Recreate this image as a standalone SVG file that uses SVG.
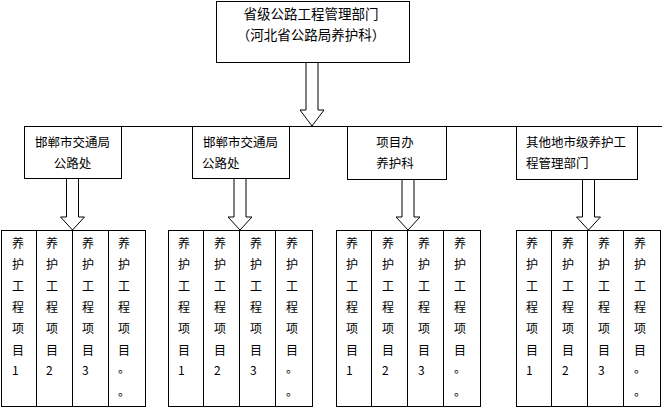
<svg xmlns="http://www.w3.org/2000/svg" width="663" height="409" viewBox="0 0 663 409">
<style>
.box{fill:#fff;stroke:#000;stroke-width:1}
.ln{stroke:#000;stroke-width:1;fill:none}
.arr{fill:#fff;stroke:#000;stroke-width:1}
text{font-family:"Noto Sans CJK SC","Noto Sans",sans-serif;fill:#000}
.t1{font-size:13.5px;text-anchor:middle}
.t2{font-size:12.5px}
.t3{font-size:12px}
.m{text-anchor:middle}
</style>
<rect width="663" height="409" fill="#fff"/>
<g id="connectors">
<line class="ln" x1="24" y1="126.5" x2="662" y2="126.5"/>
<polygon class="arr" points="306,62.5 306,110 300,110 312,126 324,110 318,110 318,62.5"/>
<polygon class="arr" points="66.5,178.5 66.5,217 60.5,217 72.5,230 84.5,217 78.5,217 78.5,178.5"/>
<polygon class="arr" points="234,178.5 234,217 228,217 240,230 252,217 246,217 246,178.5"/>
<polygon class="arr" points="402,179.5 402,217 396,217 408,230 420,217 414,217 414,179.5"/>
<polygon class="arr" points="582.5,179.5 582.5,217 576.5,217 588.5,230 600.5,217 594.5,217 594.5,179.5"/>
</g>
<g id="top">
<rect class="box" x="216.5" y="1.5" width="193" height="61"/>
<text class="t1" x="311" y="19">省级公路工程管理部门</text>
<text class="t1" x="311" y="40">（河北省公路局养护科）</text>
</g>
<g id="b1">
<rect class="box" x="24.5" y="126.5" width="97" height="52"/>
<text class="t2 m" x="72.5" y="147">邯郸市交通局</text>
<text class="t2 m" x="72.5" y="168">公路处</text>
</g>
<g id="b2">
<rect class="box" x="192.5" y="126.5" width="97" height="52"/>
<text class="t2" x="203" y="147">邯郸市交通局</text>
<text class="t2" x="202" y="168">公路处</text>
</g>
<g id="b3">
<rect class="box" x="347.5" y="126.5" width="99" height="53"/>
<text class="t2 m" x="395" y="147">项目办</text>
<text class="t2 m" x="395" y="168">养护科</text>
</g>
<g id="b4">
<rect class="box" x="516.5" y="126.5" width="121" height="53"/>
<text class="t2" x="526" y="147">其他地市级养护工</text>
<text class="t2" x="526" y="168">程管理部门</text>
</g>
<defs>
<g id="cols">
<rect class="box" x="0" y="0" width="144" height="176"/>
<line class="ln" x1="35" y1="0" x2="35" y2="176"/>
<line class="ln" x1="71" y1="0" x2="71" y2="176"/>
<line class="ln" x1="107" y1="0" x2="107" y2="176"/>
</g>
<g id="txt">
<text class="t3" y="17.5">养</text>
<text class="t3" y="38.5">护</text>
<text class="t3" y="60">工</text>
<text class="t3" y="81.5">程</text>
<text class="t3" y="102.5">项</text>
<text class="t3" y="124">目</text>
</g>
</defs>
<g id="g1" transform="translate(1.5,230.5)">
<use href="#cols"/>
<g transform="translate(10.5,0)"><use href="#txt"/><text class="t3" y="144">1</text></g>
<g transform="translate(44.5,0)"><use href="#txt"/><text class="t3" y="144">2</text></g>
<g transform="translate(80.5,0)"><use href="#txt"/><text class="t3" y="144">3</text></g>
<g transform="translate(116.5,0)"><use href="#txt"/><text class="t3" y="142">。</text><text class="t3" y="165">。</text></g>
</g>
<g id="g2" transform="translate(168.5,230.5)">
<use href="#cols"/>
<g transform="translate(9.5,0)"><use href="#txt"/><text class="t3" y="144">1</text></g>
<g transform="translate(45.5,0)"><use href="#txt"/><text class="t3" y="144">2</text></g>
<g transform="translate(81.5,0)"><use href="#txt"/><text class="t3" y="144">3</text></g>
<g transform="translate(117.5,0)"><use href="#txt"/><text class="t3" y="142">。</text><text class="t3" y="165">。</text></g>
</g>
<g id="g3" transform="translate(336.5,230.5)">
<use href="#cols"/>
<g transform="translate(9.5,0)"><use href="#txt"/><text class="t3" y="144">1</text></g>
<g transform="translate(45.5,0)"><use href="#txt"/><text class="t3" y="144">2</text></g>
<g transform="translate(81.5,0)"><use href="#txt"/><text class="t3" y="144">3</text></g>
<g transform="translate(117.5,0)"><use href="#txt"/><text class="t3" y="142">。</text><text class="t3" y="165">。</text></g>
</g>
<g id="g4" transform="translate(516.5,230.5)">
<use href="#cols"/>
<g transform="translate(9.5,0)"><use href="#txt"/><text class="t3" y="144">1</text></g>
<g transform="translate(45.5,0)"><use href="#txt"/><text class="t3" y="144">2</text></g>
<g transform="translate(81.5,0)"><use href="#txt"/><text class="t3" y="144">3</text></g>
<g transform="translate(117.5,0)"><use href="#txt"/><text class="t3" y="142">。</text><text class="t3" y="165">。</text></g>
</g>
</svg>
